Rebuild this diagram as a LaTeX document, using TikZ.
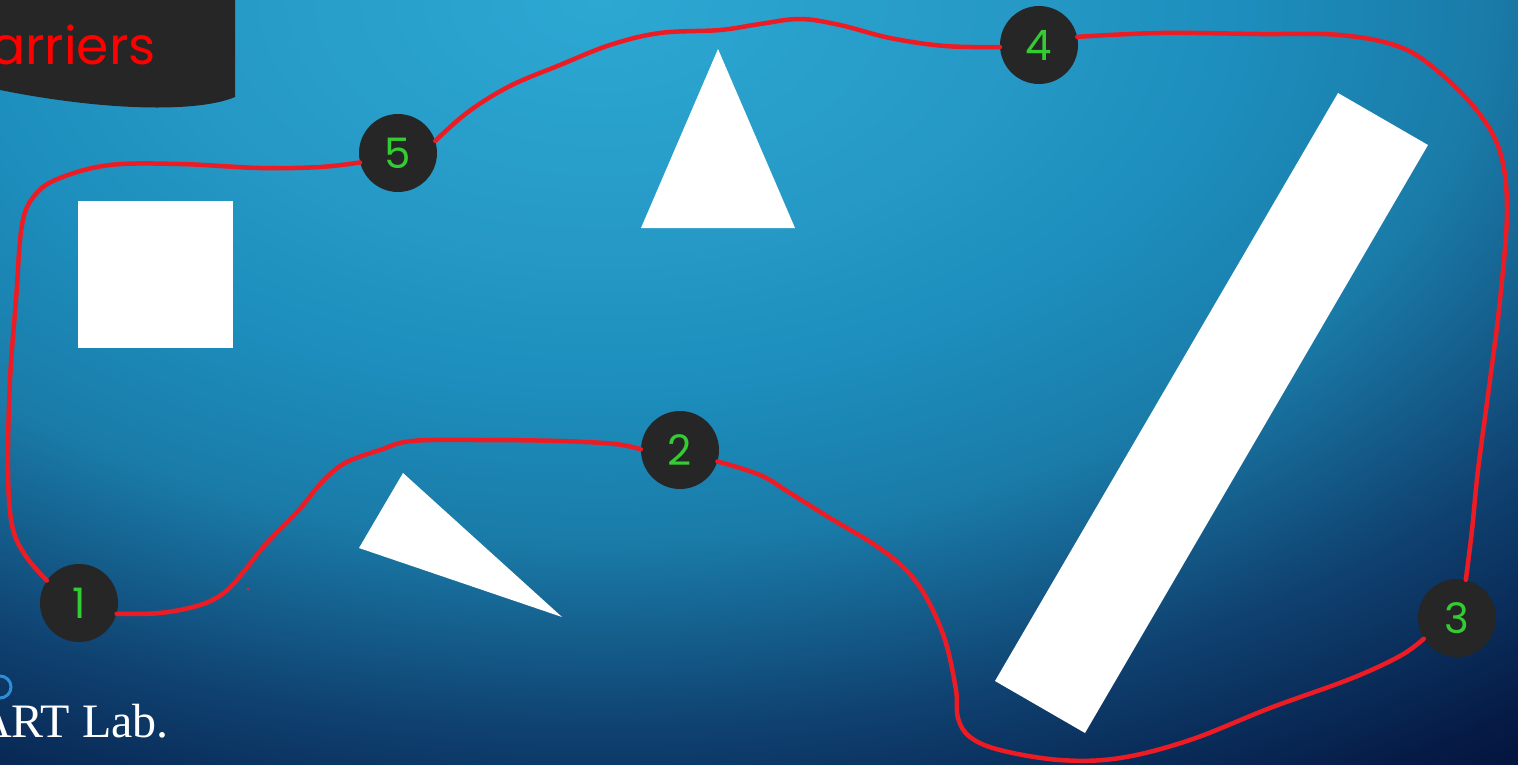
\documentclass[tikz,border=0pt]{standalone}
\usepackage{fontspec}
\newfontfamily\geo{Poppins}
\newfontfamily\serifr{Liberation Serif}
\definecolor{redline}{HTML}{ED1C24}
\definecolor{nodegray}{HTML}{262626}
\definecolor{digitgreen}{HTML}{33CC33}
\definecolor{ringblue}{HTML}{2B8ED6}
\definecolor{b0}{HTML}{2CA8D3}
\definecolor{b1}{HTML}{2699C6}
\definecolor{b2}{HTML}{1C8DBC}
\definecolor{b3}{HTML}{1A7BA8}
\definecolor{b4}{HTML}{0F4170}
\definecolor{b5}{HTML}{051A45}
\definecolor{b6}{HTML}{020F36}
\pgfdeclareradialshading{bgshade}{\pgfpoint{0bp}{0bp}}{color(0bp)=(b0); color(6.25bp)=(b1); color(9.9bp)=(b2); color(13.55bp)=(b3); color(18.25bp)=(b4); color(22.7bp)=(b5); color(25bp)=(b6); color(50bp)=(b6)}
\tikzset{
  waypt/.style={circle, fill=nodegray, minimum size=78pt, inner sep=0pt, text=digitgreen, font=\geo\fontsize{42}{44}\selectfont},
  route/.style={draw=redline, line width=4.5pt, line cap=round, line join=round},
  obstacle/.style={fill=white}
}
\begin{document}
\begin{tikzpicture}[x=1pt,y=-1pt]
\useasboundingbox (0,0) rectangle (1518,764);
\clip (0,0) rectangle (1518,764);
\shade[shading=bgshade] (600,0) ellipse [x radius=1640, y radius=1000];

% title box
\fill[nodegray] (0,0) -- (235,0) -- (235,97) .. controls (200,112) and (110,112) .. (0,90) -- cycle;
\node[anchor=base west, text=red, font=\geo\fontsize{52}{55}\selectfont, inner sep=0pt] (title) at (-10,64) {arriers};

% obstacles
\fill[obstacle] (78,201) rectangle (233,348);
\fill[obstacle] (718,49) -- (795,228) -- (641,228) -- cycle;
\fill[obstacle] (403,473) -- (562,617) -- (359,548) -- cycle;
\fill[obstacle] (1338,93) -- (1428,145) -- (1085,733) -- (995,681) -- cycle;

% waypoints
\node[waypt] (n1) at (79,603) {1};
\node[waypt] (n2) at (680,450) {2};
\node[waypt] (n3) at (1457,618) {3};
\node[waypt] (n4) at (1039,45) {4};
\node[waypt] (n5) at (398,153) {5};

% route
\draw[route] plot[smooth, tension=0.6] coordinates {(n1.-16) (160,613) (200,605) (225,592) (245,570) (265,545) (298,511) (322,482) (345,463) (380,450) (412,441) (480,440) (560,441) (615,444) (n2.179)};
\draw[route] plot[smooth, tension=0.6] coordinates {(n2.-17) (760,475) (790,493) (830,518) (875,545) (905,569) (926,597) (945,640) (956,690) (958,718) (970,737) (1000,750) (1060,760) (1120,758) (1190,740) (1270,708) (1350,679) (1400,656) (n3.-148)};
\draw[route] plot[smooth, tension=0.6] coordinates {(n3.77) (1472,530) (1478,470) (1490,380) (1500,300) (1507,210) (1500,152) (1478,112) (1440,73) (1400,47) (1340,35) (1260,34) (1160,33) (n4.12)};
\draw[route] plot[smooth, tension=0.6] coordinates {(n4.183) (945,46) (890,38) (840,25) (800,19) (760,24) (720,30) (660,33) (610,45) (560,65) (510,86) (468,112) (n5.18)};
\draw[route] plot[smooth, tension=0.6] coordinates {(n5.194) (320,167) (260,168) (180,164) (110,165) (60,178) (35,195) (22,225) (16,300) (10,380) (8,470) (12,525) (25,555) (n1.145)};
\fill[redline] (248,589) circle (1.5);

% footer
\draw[ringblue, line width=3pt] (0,687) circle (11);
\node[anchor=base west, text=white, font=\serifr\fontsize{48}{50}\selectfont, inner sep=0pt] (lab) at (-23,737) {ART Lab.};
\end{tikzpicture}
\end{document}
